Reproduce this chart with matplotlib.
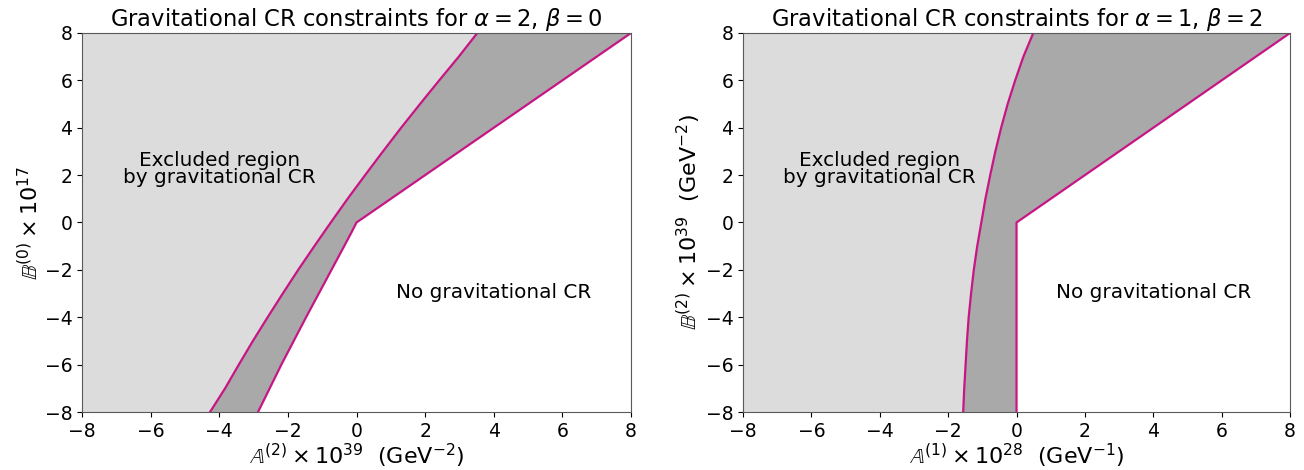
import numpy as np
import matplotlib.pyplot as plt

# left panel (alpha=2, beta=0): boundary curves, x as function of y
y_grid = [-8, -7, -6, -5, -4, -3, -2, -1, 0, 1, 2, 3, 4, 5, 6, 7, 8]
left_upper_x = [-4.27, -3.83, -3.43, -3.02, -2.59, -2.15, -1.70, -1.23, -0.75,
                -0.26, 0.25, 0.77, 1.30, 1.85, 2.41, 2.98, 3.52]
left_lower_y = [-8, -7, -6, -5, -4, -3, -2, -1, -0.4, 0, 8]
left_lower_x = [-2.87, -2.53, -2.19, -1.83, -1.47, -1.10, -0.73, -0.36, -0.14, 0, 8]

# right panel (alpha=1, beta=2)
right_upper_x = [-1.56, -1.53, -1.49, -1.45, -1.40, -1.33, -1.25, -1.15, -1.03,
                 -0.91, -0.77, -0.62, -0.45, -0.26, -0.04, 0.20, 0.49]
right_lower_y = [-8, 0, 8]
right_lower_x = [0, 0, 8]

light = '#dcdcdc'
dark = '#a9a9a9'
lc = 'mediumvioletred'


def panel(ax, ux, lx, ly, title, xlabel, ylabel):
    uy = np.array(y_grid, dtype=float)
    ux = np.array(ux, dtype=float)
    lx = np.array(lx, dtype=float)
    ly = np.array(ly, dtype=float)
    # light gray: everything left of the upper curve
    ax.fill(np.concatenate(([-8], ux, [-8])), np.concatenate(([-8], uy, [8])),
            color=light, lw=0)
    # dark gray: between upper curve and lower boundary
    ax.fill(np.concatenate((ux, lx[::-1])), np.concatenate((uy, ly[::-1])),
            color=dark, lw=0)
    ax.plot(ux, uy, color=lc, lw=1.6)
    ax.plot(lx, ly, color=lc, lw=1.6)
    ax.set_xlim(-8, 8)
    ax.set_ylim(-8, 8)
    ax.set_xticks(np.arange(-8, 9, 2))
    ax.set_yticks(np.arange(-8, 9, 2))
    ax.tick_params(labelsize=13.5)
    ax.set_title(title, fontsize=16.3, pad=3)
    ax.set_xlabel(xlabel, fontsize=16, labelpad=1)
    ax.set_ylabel(ylabel, fontsize=16, labelpad=2)
    ax.text(-4, 2.25, 'Excluded region\nby gravitational CR', ha='center', va='center',
            fontsize=14.4, linespacing=0.9)
    ax.text(4, -2.95, 'No gravitational CR', ha='center', va='center', fontsize=14.4)
    for s in ax.spines.values():
        s.set_color('0.35')


fig = plt.figure(figsize=(13.04, 4.7), dpi=100)
ax1 = fig.add_axes([0.0629, 0.1234, 0.421, 0.8064])
ax2 = fig.add_axes([0.5698, 0.1234, 0.4195, 0.8064])

panel(ax1, left_upper_x, left_lower_x, left_lower_y,
      r'Gravitational CR constraints for $\alpha = 2$, $\beta = 0$',
      r'$\mathbb{A}^{(2)} \times 10^{39}$  (GeV$^{-2}$)',
      r'$\mathbb{B}^{(0)} \times 10^{17}$')
panel(ax2, right_upper_x, right_lower_x, right_lower_y,
      r'Gravitational CR constraints for $\alpha = 1$, $\beta = 2$',
      r'$\mathbb{A}^{(1)} \times 10^{28}$  (GeV$^{-1}$)',
      r'$\mathbb{B}^{(2)} \times 10^{39}$  (GeV$^{-2}$)')

fig.savefig('out.png', dpi=100)
